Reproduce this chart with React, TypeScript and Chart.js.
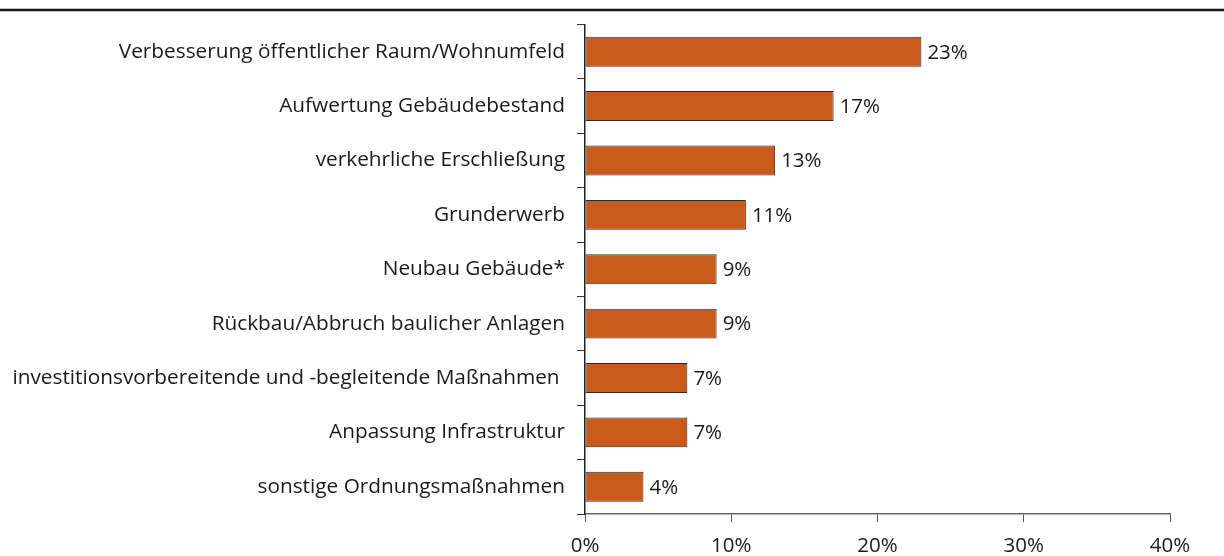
import React, { useEffect, useRef } from "react";
import { Chart, registerables } from "chart.js";

Chart.register(...registerables);

const categories = [
  "Verbesserung öffentlicher Raum/Wohnumfeld",
  "Aufwertung Gebäudebestand",
  "verkehrliche Erschließung",
  "Grunderwerb",
  "Neubau Gebäude*",
  "Rückbau/Abbruch baulicher Anlagen",
  "investitionsvorbereitende und -begleitende Maßnahmen ",
  "Anpassung Infrastruktur",
  "sonstige Ordnungsmaßnahmen",
];
const values = [23, 17, 13, 11, 9, 9, 7, 7, 4];
const xTicks = [0, 10, 20, 30, 40];

const FONT = "'Open Sans', 'Noto Sans', sans-serif";
const TEXT = "#1a1a1a";
const FS = 20.5;

const topLine = {
  id: "topLine",
  afterDraw(chart: any) {
    const ctx = chart.ctx;
    ctx.save();
    ctx.strokeStyle = "#1a1a1a";
    ctx.lineWidth = 2.5;
    ctx.beginPath();
    ctx.moveTo(0, 10);
    ctx.lineTo(chart.width, 10);
    ctx.stroke();
    ctx.restore();
  },
};

const valueLabels = {
  id: "valueLabels",
  afterDatasetsDraw(chart: any) {
    const ctx = chart.ctx;
    const meta = chart.getDatasetMeta(0);
    ctx.save();
    ctx.fillStyle = TEXT;
    ctx.font = `${FS}px ${FONT}`;
    ctx.textAlign = "left";
    ctx.textBaseline = "middle";
    meta.data.forEach((bar: any, i: number) => {
      ctx.fillText(values[i] + "%", bar.x + 6, bar.y + 1);
    });
    ctx.restore();
  },
};

export default function App() {
  const ref = useRef<HTMLCanvasElement>(null);
  useEffect(() => {
    document.body.style.margin = "0";
    const chart = new Chart(ref.current!, {
      type: "bar",
      data: {
        labels: categories,
        datasets: [
          {
            data: values,
            backgroundColor: "#C85B1C",
            borderColor: "#2a2a2a",
            borderWidth: 1,
            borderSkipped: false,
            barPercentage: 0.55,
            categoryPercentage: 1,
          },
        ],
      },
      options: {
        indexAxis: "y",
        animation: false,
        responsive: false,
        devicePixelRatio: 1,
        layout: { padding: { top: 22, right: 54, left: 0, bottom: 0 } },
        plugins: { legend: { display: false }, tooltip: { enabled: false } },
        scales: {
          x: {
            min: 0,
            max: 40,
            afterBuildTicks: (axis: any) => {
              axis.ticks = xTicks.map((v) => ({ value: v }));
            },
            afterFit: (axis: any) => {
              axis.height = 42;
            },
            grid: {
              drawOnChartArea: false,
              drawTicks: true,
              tickLength: 8,
              color: "#555",
            },
            border: { color: "#666", width: 1.5 },
            ticks: {
              color: TEXT,
              font: { family: FONT, size: FS },
              padding: 12,
              maxRotation: 0,
              callback: (v: any) => v + "%",
            },
          },
          y: {
            afterFit: (axis: any) => {
              axis.width = 585;
            },
            grid: {
              drawOnChartArea: false,
              drawTicks: true,
              tickLength: 8,
              offset: true,
              color: "#333",
            },
            border: { color: "#222", width: 1.5 },
            ticks: {
              color: TEXT,
              font: { family: FONT, size: 20.8 },
              padding: 12,
            },
          },
        },
      },
      plugins: [topLine, valueLabels],
    });
    return () => chart.destroy();
  }, []);
  return <canvas ref={ref} width={1224} height={556} style={{ display: "block" }} />;
}
